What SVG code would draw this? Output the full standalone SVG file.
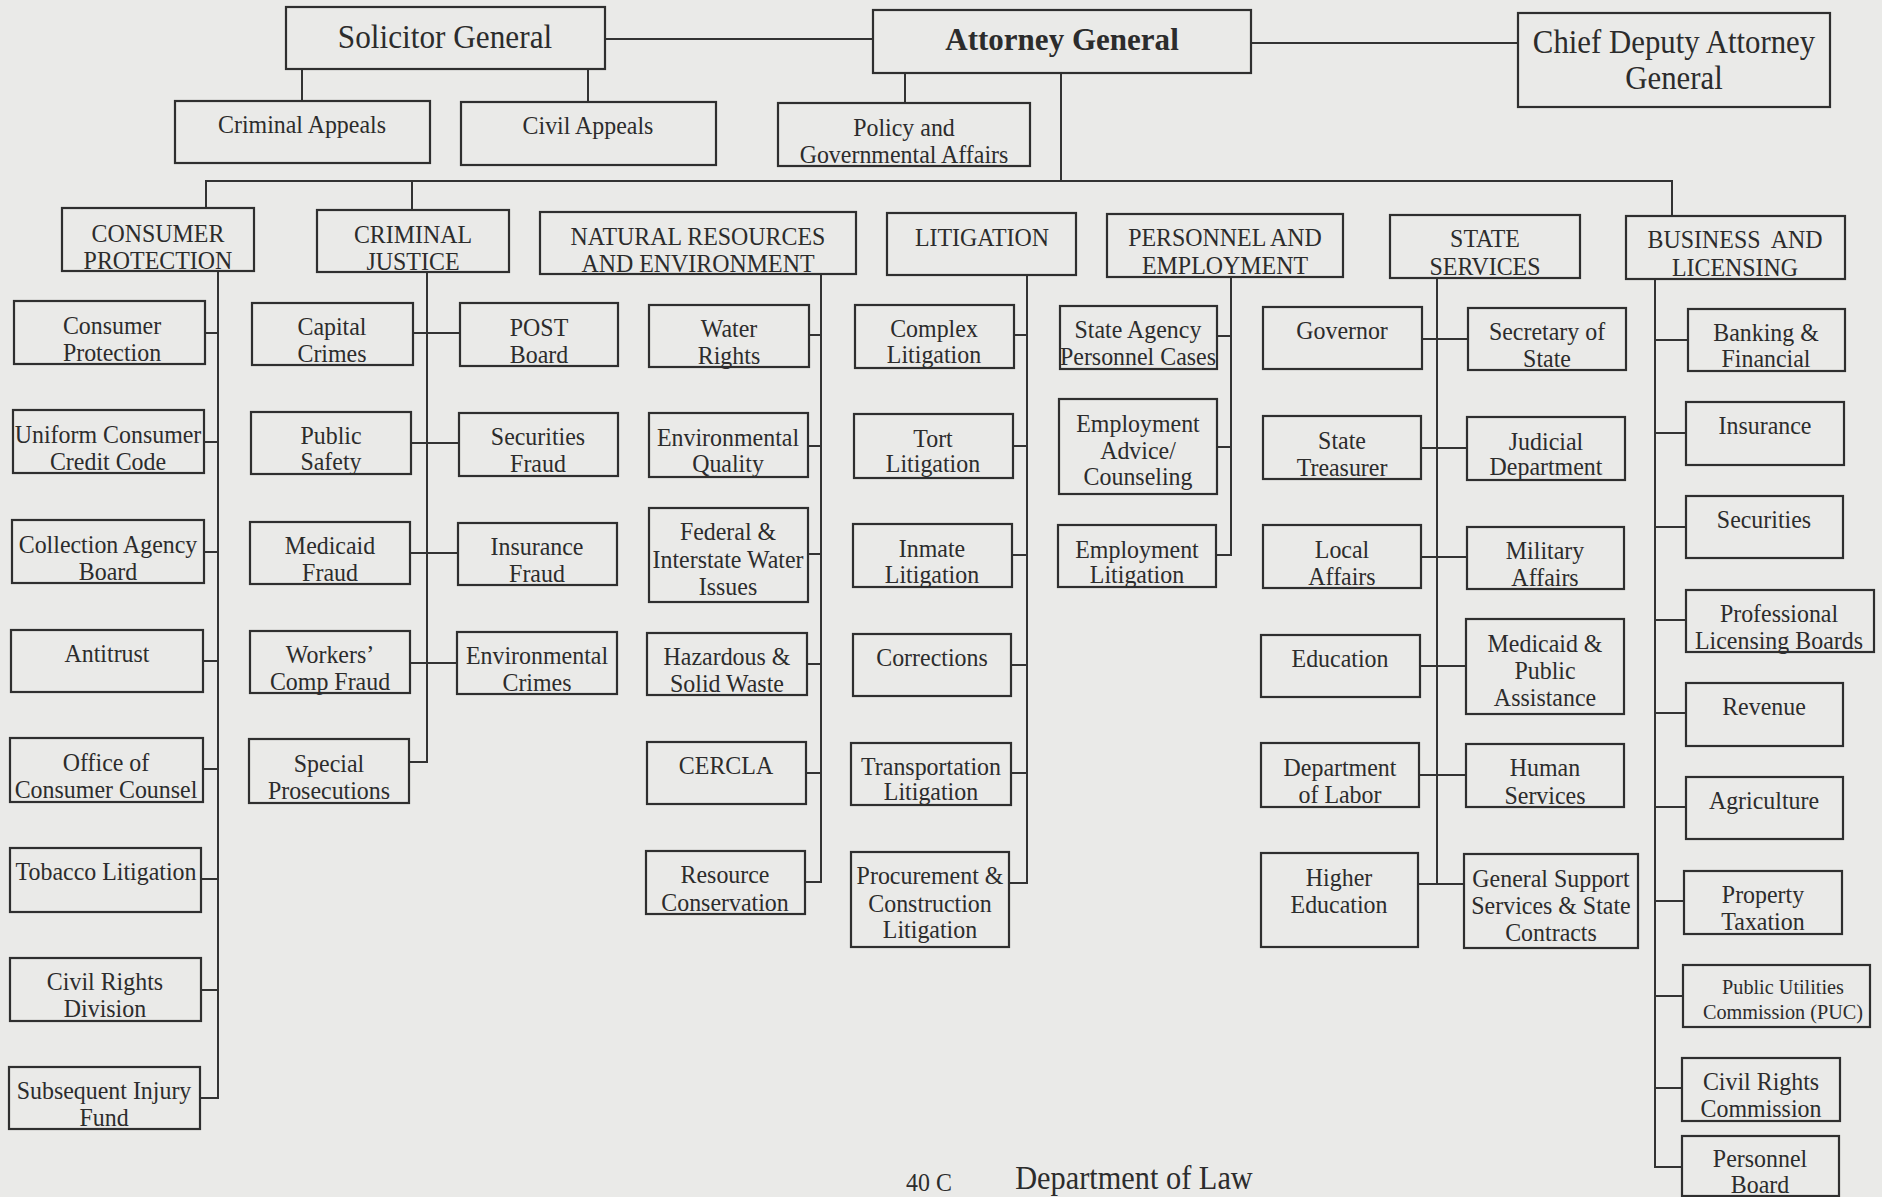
<svg xmlns="http://www.w3.org/2000/svg" width="1882" height="1197" viewBox="0 0 1882 1197">
<style>
.bg{fill:#eaeae8}
.b{fill:none;stroke:#2f2f2f;stroke-width:2.2}
.t{font-family:"Liberation Serif","Times New Roman",serif;font-size:26px;fill:#2c2c2c;text-anchor:middle;transform-box:fill-box;transform-origin:center;transform:scaleX(0.92)}
.big{font-size:34px}
.bold{font-weight:bold;font-size:32px;transform:scaleX(0.97)}
.cd{font-size:33.5px}
.sm{font-size:22px}
.ft{font-size:33px}
.c line{stroke:#333;stroke-width:2;fill:none}
</style>
<rect class="bg" x="0" y="0" width="1882" height="1197"/>

<g class="c" id="connectors">
<line x1="605" y1="39" x2="873" y2="39"/>
<line x1="1251" y1="43" x2="1518" y2="43"/>
<line x1="302" y1="69" x2="302" y2="101"/>
<line x1="588" y1="69" x2="588" y2="102"/>
<line x1="905" y1="73" x2="905" y2="103"/>
<line x1="1061" y1="73" x2="1061" y2="181"/>
<line x1="205" y1="181" x2="1673" y2="181"/>
<line x1="206" y1="181" x2="206" y2="208"/>
<line x1="412" y1="181" x2="412" y2="210"/>
<line x1="1672" y1="181" x2="1672" y2="216"/>
<!-- column A -->
<line x1="218" y1="271" x2="218" y2="1099"/>
<line x1="205" y1="333" x2="218" y2="333"/>
<line x1="204" y1="442" x2="218" y2="442"/>
<line x1="204" y1="552" x2="218" y2="552"/>
<line x1="203" y1="661" x2="218" y2="661"/>
<line x1="203" y1="769" x2="218" y2="769"/>
<line x1="201" y1="879" x2="218" y2="879"/>
<line x1="201" y1="990" x2="218" y2="990"/>
<line x1="200" y1="1098" x2="219" y2="1098"/>
<!-- column B -->
<line x1="427" y1="272" x2="427" y2="763"/>
<line x1="413" y1="333" x2="460" y2="333"/>
<line x1="411" y1="443" x2="459" y2="443"/>
<line x1="410" y1="553" x2="458" y2="553"/>
<line x1="410" y1="663" x2="457" y2="663"/>
<line x1="409" y1="762" x2="428" y2="762"/>
<!-- column C -->
<line x1="821" y1="274" x2="821" y2="883"/>
<line x1="809" y1="335" x2="821" y2="335"/>
<line x1="808" y1="446" x2="821" y2="446"/>
<line x1="808" y1="554" x2="821" y2="554"/>
<line x1="807" y1="664" x2="821" y2="664"/>
<line x1="806" y1="773" x2="821" y2="773"/>
<line x1="805" y1="882" x2="822" y2="882"/>
<!-- column D -->
<line x1="1027" y1="275" x2="1027" y2="884"/>
<line x1="1014" y1="335" x2="1027" y2="335"/>
<line x1="1013" y1="446" x2="1027" y2="446"/>
<line x1="1012" y1="555" x2="1027" y2="555"/>
<line x1="1011" y1="665" x2="1027" y2="665"/>
<line x1="1011" y1="773" x2="1027" y2="773"/>
<line x1="1009" y1="883" x2="1028" y2="883"/>
<!-- column E -->
<line x1="1231" y1="277" x2="1231" y2="556"/>
<line x1="1217" y1="336" x2="1231" y2="336"/>
<line x1="1217" y1="447" x2="1231" y2="447"/>
<line x1="1216" y1="555" x2="1232" y2="555"/>
<!-- column F -->
<line x1="1437" y1="278" x2="1437" y2="885"/>
<line x1="1422" y1="339" x2="1468" y2="339"/>
<line x1="1421" y1="448" x2="1467" y2="448"/>
<line x1="1421" y1="557" x2="1467" y2="557"/>
<line x1="1420" y1="666" x2="1466" y2="666"/>
<line x1="1419" y1="775" x2="1466" y2="775"/>
<line x1="1418" y1="884" x2="1464" y2="884"/>
<!-- column G -->
<line x1="1655" y1="279" x2="1655" y2="1168"/>
<line x1="1655" y1="340" x2="1688" y2="340"/>
<line x1="1655" y1="433" x2="1686" y2="433"/>
<line x1="1655" y1="527" x2="1686" y2="527"/>
<line x1="1655" y1="620" x2="1686" y2="620"/>
<line x1="1655" y1="713" x2="1686" y2="713"/>
<line x1="1655" y1="807" x2="1686" y2="807"/>
<line x1="1655" y1="901" x2="1684" y2="901"/>
<line x1="1655" y1="996" x2="1683" y2="996"/>
<line x1="1655" y1="1088" x2="1682" y2="1088"/>
<line x1="1654" y1="1167" x2="1682" y2="1167"/>
</g>

<!-- top level -->
<g id="solicitor-general"><rect class="b" x="286" y="7" width="319" height="62"/><text class="t big" x="445" y="48">Solicitor General</text></g>
<g id="attorney-general"><rect class="b" x="873" y="10" width="378" height="63"/><text class="t bold" x="1062" y="50">Attorney General</text></g>
<g id="chief-deputy"><rect class="b" x="1518" y="13" width="312" height="94"/><text class="t cd"><tspan x="1674" y="53">Chief Deputy Attorney</tspan><tspan x="1674" y="89">General</tspan></text></g>
<g id="criminal-appeals"><rect class="b" x="175" y="101" width="255" height="62"/><text class="t" x="302" y="133">Criminal Appeals</text></g>
<g id="civil-appeals"><rect class="b" x="461" y="102" width="255" height="63"/><text class="t" x="588" y="134">Civil Appeals</text></g>
<g id="policy"><rect class="b" x="778" y="103" width="252" height="63"/><text class="t"><tspan x="904" y="136">Policy and</tspan><tspan x="904" y="163">Governmental Affairs</tspan></text></g>

<!-- sections -->
<g id="consumer-protection-section"><rect class="b" x="62" y="208" width="192" height="63"/><text class="t"><tspan x="158" y="242">CONSUMER</tspan><tspan x="158" y="269">PROTECTION</tspan></text></g>
<g id="criminal-justice"><rect class="b" x="317" y="210" width="192" height="62"/><text class="t"><tspan x="413" y="243">CRIMINAL</tspan><tspan x="413" y="270">JUSTICE</tspan></text></g>
<g id="natural-resources"><rect class="b" x="540" y="212" width="316" height="62"/><text class="t"><tspan x="698" y="245">NATURAL RESOURCES</tspan><tspan x="698" y="272">AND ENVIRONMENT</tspan></text></g>
<g id="litigation"><rect class="b" x="887" y="213" width="189" height="62"/><text class="t" x="982" y="246">LITIGATION</text></g>
<g id="personnel-employment"><rect class="b" x="1107" y="214" width="236" height="63"/><text class="t"><tspan x="1225" y="246">PERSONNEL AND</tspan><tspan x="1225" y="274">EMPLOYMENT</tspan></text></g>
<g id="state-services"><rect class="b" x="1390" y="215" width="190" height="63"/><text class="t"><tspan x="1485" y="247">STATE</tspan><tspan x="1485" y="275">SERVICES</tspan></text></g>
<g id="business-licensing"><rect class="b" x="1626" y="216" width="219" height="63"/><text class="t" style="word-spacing:6px"><tspan x="1735" y="248">BUSINESS AND</tspan><tspan x="1735" y="276">LICENSING</tspan></text></g>

<!-- column A -->
<g id="consumer-protection"><rect class="b" x="14" y="301" width="191" height="63"/><text class="t"><tspan x="112" y="334">Consumer</tspan><tspan x="112" y="361">Protection</tspan></text></g>
<g id="uccc"><rect class="b" x="13" y="410" width="191" height="63"/><text class="t"><tspan x="108" y="443">Uniform Consumer</tspan><tspan x="108" y="470">Credit Code</tspan></text></g>
<g id="collection-agency"><rect class="b" x="12" y="520" width="192" height="63"/><text class="t"><tspan x="108" y="553">Collection Agency</tspan><tspan x="108" y="580">Board</tspan></text></g>
<g id="antitrust"><rect class="b" x="11" y="630" width="192" height="62"/><text class="t" x="107" y="662">Antitrust</text></g>
<g id="consumer-counsel"><rect class="b" x="10" y="738" width="193" height="64"/><text class="t"><tspan x="106" y="771">Office of</tspan><tspan x="106" y="798">Consumer Counsel</tspan></text></g>
<g id="tobacco"><rect class="b" x="10" y="848" width="191" height="64"/><text class="t" x="106" y="880">Tobacco Litigation</text></g>
<g id="civil-rights-division"><rect class="b" x="10" y="958" width="191" height="63"/><text class="t"><tspan x="105" y="990">Civil Rights</tspan><tspan x="105" y="1017">Division</tspan></text></g>
<g id="subsequent-injury"><rect class="b" x="9" y="1067" width="191" height="62"/><text class="t"><tspan x="104" y="1099">Subsequent Injury</tspan><tspan x="104" y="1126">Fund</tspan></text></g>

<!-- column B -->
<g id="capital-crimes"><rect class="b" x="252" y="303" width="161" height="62"/><text class="t"><tspan x="332" y="335">Capital</tspan><tspan x="332" y="362">Crimes</tspan></text></g>
<g id="public-safety"><rect class="b" x="251" y="412" width="160" height="62"/><text class="t"><tspan x="331" y="444">Public</tspan><tspan x="331" y="470">Safety</tspan></text></g>
<g id="medicaid-fraud"><rect class="b" x="250" y="522" width="160" height="62"/><text class="t"><tspan x="330" y="554">Medicaid</tspan><tspan x="330" y="581">Fraud</tspan></text></g>
<g id="workers-comp"><rect class="b" x="250" y="631" width="160" height="62"/><text class="t"><tspan x="330" y="663">Workers’</tspan><tspan x="330" y="690">Comp Fraud</tspan></text></g>
<g id="special-prosecutions"><rect class="b" x="249" y="739" width="160" height="64"/><text class="t"><tspan x="329" y="772">Special</tspan><tspan x="329" y="799">Prosecutions</tspan></text></g>
<g id="post-board"><rect class="b" x="460" y="303" width="158" height="63"/><text class="t"><tspan x="539" y="336">POST</tspan><tspan x="539" y="363">Board</tspan></text></g>
<g id="securities-fraud"><rect class="b" x="459" y="413" width="159" height="63"/><text class="t"><tspan x="538" y="445">Securities</tspan><tspan x="538" y="472">Fraud</tspan></text></g>
<g id="insurance-fraud"><rect class="b" x="458" y="523" width="159" height="62"/><text class="t"><tspan x="537" y="555">Insurance</tspan><tspan x="537" y="582">Fraud</tspan></text></g>
<g id="environmental-crimes"><rect class="b" x="457" y="632" width="160" height="62"/><text class="t"><tspan x="537" y="664">Environmental</tspan><tspan x="537" y="691">Crimes</tspan></text></g>

<!-- column C -->
<g id="water-rights"><rect class="b" x="649" y="305" width="160" height="62"/><text class="t"><tspan x="729" y="337">Water</tspan><tspan x="729" y="364">Rights</tspan></text></g>
<g id="environmental-quality"><rect class="b" x="649" y="413" width="159" height="64"/><text class="t"><tspan x="728" y="446">Environmental</tspan><tspan x="728" y="472">Quality</tspan></text></g>
<g id="federal-water"><rect class="b" x="649" y="508" width="159" height="94"/><text class="t"><tspan x="728" y="540">Federal &amp;</tspan><tspan x="728" y="568">Interstate Water</tspan><tspan x="728" y="595">Issues</tspan></text></g>
<g id="hazardous-waste"><rect class="b" x="647" y="633" width="160" height="62"/><text class="t"><tspan x="727" y="665">Hazardous &amp;</tspan><tspan x="727" y="692">Solid Waste</tspan></text></g>
<g id="cercla"><rect class="b" x="647" y="742" width="159" height="62"/><text class="t" x="726" y="774">CERCLA</text></g>
<g id="resource-conservation"><rect class="b" x="646" y="851" width="159" height="63"/><text class="t"><tspan x="725" y="883">Resource</tspan><tspan x="725" y="911">Conservation</tspan></text></g>

<!-- column D -->
<g id="complex-litigation"><rect class="b" x="855" y="305" width="159" height="63"/><text class="t"><tspan x="934" y="337">Complex</tspan><tspan x="934" y="363">Litigation</tspan></text></g>
<g id="tort-litigation"><rect class="b" x="854" y="414" width="159" height="64"/><text class="t"><tspan x="933" y="447">Tort</tspan><tspan x="933" y="472">Litigation</tspan></text></g>
<g id="inmate-litigation"><rect class="b" x="853" y="524" width="159" height="63"/><text class="t"><tspan x="932" y="557">Inmate</tspan><tspan x="932" y="583">Litigation</tspan></text></g>
<g id="corrections"><rect class="b" x="853" y="634" width="158" height="62"/><text class="t" x="932" y="666">Corrections</text></g>
<g id="transportation-litigation"><rect class="b" x="851" y="743" width="160" height="62"/><text class="t"><tspan x="931" y="775">Transportation</tspan><tspan x="931" y="800">Litigation</tspan></text></g>
<g id="procurement-litigation"><rect class="b" x="851" y="852" width="158" height="95"/><text class="t"><tspan x="930" y="884">Procurement &amp;</tspan><tspan x="930" y="912">Construction</tspan><tspan x="930" y="938">Litigation</tspan></text></g>

<!-- column E -->
<g id="state-agency-personnel"><rect class="b" x="1060" y="306" width="157" height="63"/><text class="t"><tspan x="1138" y="338">State Agency</tspan><tspan x="1138" y="365">Personnel Cases</tspan></text></g>
<g id="employment-advice"><rect class="b" x="1059" y="399" width="158" height="95"/><text class="t"><tspan x="1138" y="432">Employment</tspan><tspan x="1138" y="459">Advice/</tspan><tspan x="1138" y="485">Counseling</tspan></text></g>
<g id="employment-litigation"><rect class="b" x="1058" y="525" width="158" height="62"/><text class="t"><tspan x="1137" y="558">Employment</tspan><tspan x="1137" y="583">Litigation</tspan></text></g>

<!-- column F -->
<g id="governor"><rect class="b" x="1263" y="307" width="159" height="62"/><text class="t" x="1342" y="339">Governor</text></g>
<g id="state-treasurer"><rect class="b" x="1263" y="416" width="158" height="63"/><text class="t"><tspan x="1342" y="449">State</tspan><tspan x="1342" y="476">Treasurer</tspan></text></g>
<g id="local-affairs"><rect class="b" x="1263" y="525" width="158" height="63"/><text class="t"><tspan x="1342" y="558">Local</tspan><tspan x="1342" y="585">Affairs</tspan></text></g>
<g id="education"><rect class="b" x="1261" y="635" width="159" height="62"/><text class="t" x="1340" y="667">Education</text></g>
<g id="department-of-labor"><rect class="b" x="1261" y="743" width="158" height="64"/><text class="t"><tspan x="1340" y="776">Department</tspan><tspan x="1340" y="803">of Labor</tspan></text></g>
<g id="higher-education"><rect class="b" x="1261" y="853" width="157" height="94"/><text class="t"><tspan x="1339" y="886">Higher</tspan><tspan x="1339" y="913">Education</tspan></text></g>
<g id="secretary-of-state"><rect class="b" x="1468" y="308" width="158" height="62"/><text class="t"><tspan x="1547" y="340">Secretary of</tspan><tspan x="1547" y="367">State</tspan></text></g>
<g id="judicial-department"><rect class="b" x="1467" y="417" width="158" height="63"/><text class="t"><tspan x="1546" y="450">Judicial</tspan><tspan x="1546" y="475">Department</tspan></text></g>
<g id="military-affairs"><rect class="b" x="1467" y="527" width="157" height="62"/><text class="t"><tspan x="1545" y="559">Military</tspan><tspan x="1545" y="586">Affairs</tspan></text></g>
<g id="medicaid-public-assistance"><rect class="b" x="1466" y="619" width="158" height="95"/><text class="t"><tspan x="1545" y="652">Medicaid &amp;</tspan><tspan x="1545" y="679">Public</tspan><tspan x="1545" y="706">Assistance</tspan></text></g>
<g id="human-services"><rect class="b" x="1466" y="744" width="158" height="63"/><text class="t"><tspan x="1545" y="776">Human</tspan><tspan x="1545" y="804">Services</tspan></text></g>
<g id="general-support"><rect class="b" x="1464" y="854" width="174" height="94"/><text class="t"><tspan x="1551" y="887">General Support</tspan><tspan x="1551" y="914">Services &amp; State</tspan><tspan x="1551" y="941">Contracts</tspan></text></g>

<!-- column G -->
<g id="banking-financial"><rect class="b" x="1688" y="309" width="157" height="62"/><text class="t"><tspan x="1766" y="341">Banking &amp;</tspan><tspan x="1766" y="367">Financial</tspan></text></g>
<g id="insurance"><rect class="b" x="1686" y="402" width="158" height="63"/><text class="t" x="1765" y="434">Insurance</text></g>
<g id="securities"><rect class="b" x="1686" y="496" width="157" height="62"/><text class="t" x="1764" y="528">Securities</text></g>
<g id="professional-licensing"><rect class="b" x="1686" y="590" width="188" height="62"/><text class="t"><tspan x="1779" y="622">Professional</tspan><tspan x="1779" y="649">Licensing Boards</tspan></text></g>
<g id="revenue"><rect class="b" x="1686" y="683" width="157" height="63"/><text class="t" x="1764" y="715">Revenue</text></g>
<g id="agriculture"><rect class="b" x="1686" y="777" width="157" height="62"/><text class="t" x="1764" y="809">Agriculture</text></g>
<g id="property-taxation"><rect class="b" x="1684" y="871" width="158" height="63"/><text class="t"><tspan x="1763" y="903">Property</tspan><tspan x="1763" y="930">Taxation</tspan></text></g>
<g id="puc"><rect class="b" x="1683" y="965" width="187" height="62"/><text class="t sm"><tspan x="1783" y="994">Public Utilities</tspan><tspan x="1783" y="1019">Commission (PUC)</tspan></text></g>
<g id="civil-rights-commission"><rect class="b" x="1682" y="1058" width="158" height="63"/><text class="t"><tspan x="1761" y="1090">Civil Rights</tspan><tspan x="1761" y="1117">Commission</tspan></text></g>
<g id="personnel-board"><rect class="b" x="1682" y="1136" width="157" height="60"/><text class="t"><tspan x="1760" y="1167">Personnel</tspan><tspan x="1760" y="1193">Board</tspan></text></g>

<g id="footer">
<text class="t" x="929" y="1191">40 C</text>
<text class="t ft" x="1134" y="1189">Department of Law</text>
</g>
</svg>
